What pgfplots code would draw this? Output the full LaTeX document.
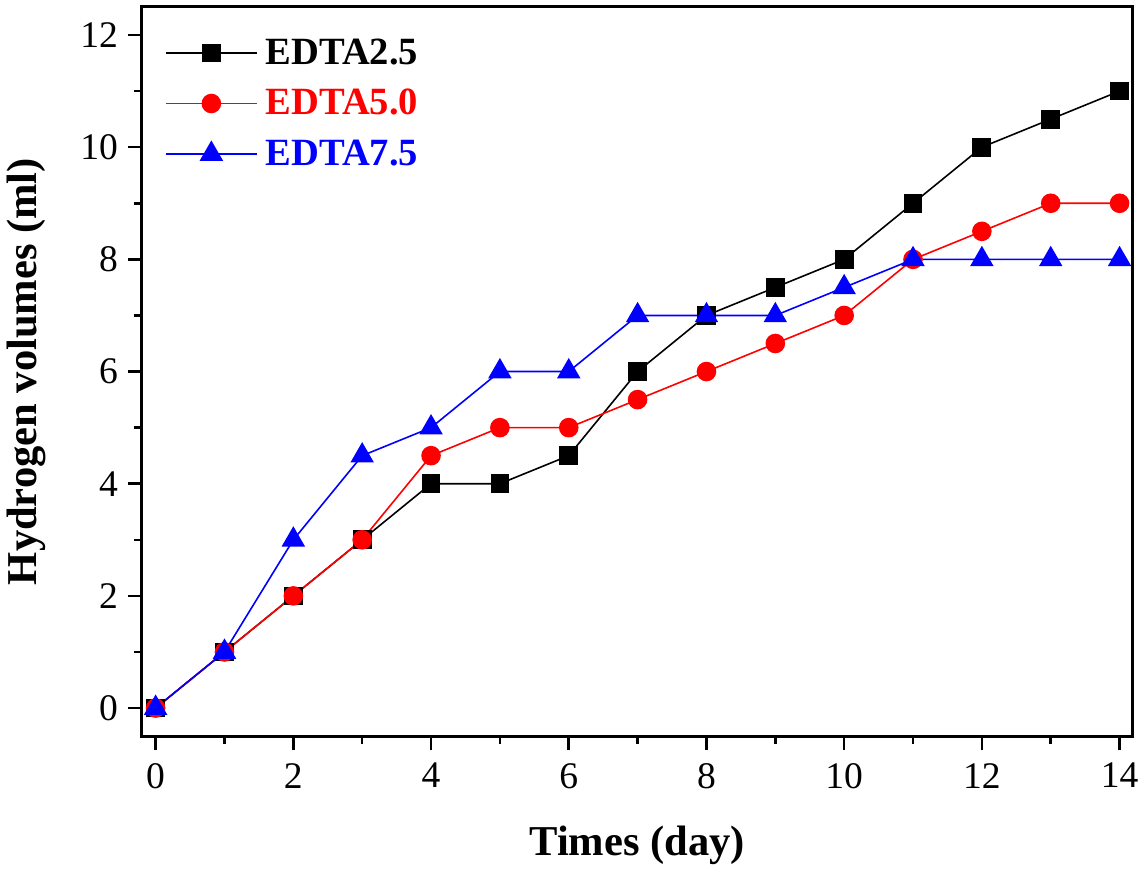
\documentclass[border=0pt]{standalone}
\usepackage{fontspec}
\setmainfont{Liberation Serif}
\usepackage{pgfplots}
\pgfplotsset{compat=1.18}
\begin{document}
\begin{tikzpicture}
\begin{axis}[
  scale only axis,
  width=496pt, height=365pt,
  xmin=-0.2, xmax=14.19, ymin=-0.5, ymax=12.5,
  xtick={0,2,...,14}, ytick={0,2,...,12},
  minor x tick num=1, minor y tick num=1,
  axis line style={line width=1.5pt},
  every tick/.style={black, line width=1.3pt},
  tick align=outside,
  major tick length=7pt, minor tick length=4pt,
  xtick pos=bottom, ytick pos=left,
  tick label style={font=\fontsize{18.8}{20}\selectfont},
  xticklabel style={yshift=-3pt},
  yticklabel style={xshift=-1.5pt},
  /pgf/number format/assume math mode=true,
  xlabel={\textbf{Times (day)}},
  ylabel={\textbf{Hydrogen volumes (ml)}},
  label style={font=\fontsize{21.3}{23}\selectfont},
  xlabel style={yshift=-12pt},
  ylabel style={yshift=10.5pt},
  legend style={draw=none, fill=none, at={(0.017,0.968)}, anchor=north west,
    font=\fontsize{19.3}{21}\selectfont\bfseries, row sep=7pt},
  legend cell align=left,
  legend image code/.code={
    \draw[#1, mark=none] (0cm,0cm) -- (1.6cm,0cm);
    \draw[#1, only marks] plot coordinates {(0.8cm,0cm)};
  },
]
\addplot[black, line width=0.8pt, mark=square*, mark size=4.3pt, mark options={solid}]
  coordinates {(0,0)(1,1)(2,2)(3,3)(4,4)(5,4)(6,4.5)(7,6)(8,7)(9,7.5)(10,8)(11,9)(12,10)(13,10.5)(14,11)};
\addlegendentry{\hspace{2pt}\textcolor{black}{EDTA2.5}}
\addplot[red, line width=0.8pt, mark=*, mark size=4.5pt]
  coordinates {(0,0)(1,1)(2,2)(3,3)(4,4.5)(5,5)(6,5)(7,5.5)(8,6)(9,6.5)(10,7)(11,8)(12,8.5)(13,9)(14,9)};
\addlegendentry{\hspace{2pt}\textcolor{red}{EDTA5.0}}
\addplot[blue, line width=0.8pt, mark=triangle*, mark size=6pt]
  coordinates {(0,0)(1,1)(2,3)(3,4.5)(4,5)(5,6)(6,6)(7,7)(8,7)(9,7)(10,7.5)(11,8)(12,8)(13,8)(14,8)};
\addlegendentry{\hspace{2pt}\textcolor{blue}{EDTA7.5}}
\end{axis}
\path ([yshift=3.5pt]current axis.north);
\end{tikzpicture}
\end{document}
